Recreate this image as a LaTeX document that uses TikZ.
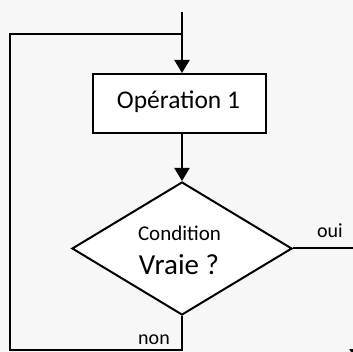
\documentclass[tikz,border=0pt]{standalone}
\usepackage{fontspec}
\setmainfont{Carlito}
\usetikzlibrary{shapes.geometric,arrows.meta}
\definecolor{bg}{RGB}{247,247,247}
\begin{document}
\begin{tikzpicture}[x=1pt,y=-1pt,line width=2pt,
  arr/.style={-{Triangle[width=15pt,length=13pt]}},
  lbl/.style={anchor=base,inner sep=0pt,font=\fontsize{20}{24}\selectfont},
  opbox/.style={draw,fill=white,minimum width=173pt,minimum height=59pt,inner sep=0pt},
  decision/.style={draw,fill=white,diamond,minimum width=220pt,minimum height=133pt,inner sep=0pt}]
\clip (0,0) rectangle (353,352);
\fill[bg] (0,0) rectangle (353,352);
\node[opbox] (op) at (179.5,103.5) {};
\node[decision] (cond) at (182,248.5) {};
\node[lbl,font=\fontsize{25.5}{30}\selectfont] (optext) at (178.5,109) {Opération 1};
\node[lbl,font=\fontsize{21}{25}\selectfont] (c1) at (179.5,241) {Condition};
\node[lbl,font=\fontsize{29}{34}\selectfont] (c2) at (179,275) {Vraie ?};
\node[lbl] (oui) at (330,238) {oui};
\node[lbl] (non) at (154,344) {non};
\coordinate (start) at (182,12);
\coordinate (join) at (182,34);
\coordinate (bl) at (10,350);
\coordinate (br) at (182,350);
\coordinate (tl) at (10,34);
\coordinate (ro) at (357,248.5);
\coordinate (rend) at (357,362);
\draw[arr] (start) -- (start |- op.north);
\draw[arr] (join |- op.south) -- (cond.north);
\draw (cond.south) -- (br) -- (bl) -- (tl) -- (join);
\draw[arr] (cond.east) -- (ro) -- (rend);
\end{tikzpicture}
\end{document}
